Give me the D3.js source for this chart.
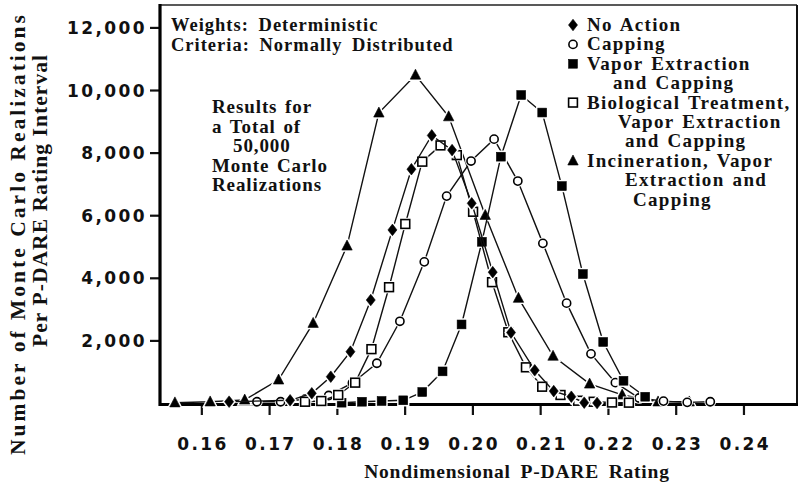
<!DOCTYPE html>
<html><head><meta charset="utf-8">
<script src="https://cdn.jsdelivr.net/npm/d3@7"></script>
<style>
html,body{margin:0;padding:0;background:#fff;}
svg{display:block;}
.serif{font-family:"Liberation Serif","Times New Roman",serif;font-weight:bold;fill:#111;}
.tick text{font-family:"DejaVu Sans",sans-serif;font-weight:bold;font-size:17px;letter-spacing:2.4px;fill:#111;}
</style></head>
<body><svg id="c" width="803" height="486"></svg>
<script>
// ---- data ----
const xTicks = [0.16,0.17,0.18,0.19,0.20,0.21,0.22,0.23,0.24];
const yTicks = [2000,4000,6000,8000,10000,12000];

const noActionX = [0.1641,0.1731,0.1763,0.1791,0.1820,0.1850,0.1882,0.1910,0.1940,0.1970,0.1999,0.2030,0.2057,0.2092,0.2120,0.2146,0.2165,0.2184];
const noActionY = [42,86,310,840,1640,3290,5530,7470,8550,8080,6380,4180,2250,1045,380,200,10,0];

const cappingX = [0.1682,0.1717,0.1753,0.1788,0.1823,0.1859,0.1893,0.1929,0.1962,0.1998,0.2032,0.2067,0.2104,0.2139,0.2175,0.2211,0.2246,0.2282,0.2317,0.2351];
const cappingY = [40,40,120,240,640,1270,2610,4510,6610,7730,8430,7090,5100,3190,1570,650,160,60,20,40];

const vaporX = [0.1807,0.1837,0.1866,0.1898,0.1926,0.1956,0.1984,0.2014,0.2042,0.2072,0.2103,0.2132,0.2163,0.2193,0.2223,0.2255];
const vaporY = [10,40,64,86,350,1010,2510,5150,7870,9840,9280,6930,4120,1950,710,200];

const bioX = [0.1753,0.1777,0.1802,0.1827,0.1851,0.1877,0.1901,0.1926,0.1953,0.1977,0.2001,0.2029,0.2053,0.2079,0.2103,0.2130,0.2156,0.2179,0.2206,0.2231];
const bioY = [40,64,256,650,1720,3700,5720,7710,8230,7920,6110,3860,2260,1140,520,256,73,40,16,10];

const incinX = [0.1561,0.1613,0.1664,0.1714,0.1765,0.1815,0.1862,0.1916,0.1965,0.2019,0.2068,0.2119,0.2173,0.2221,0.2274,0.2320];
const incinY = [10,40,100,740,2550,5020,9270,10480,9150,6000,3350,1500,610,260,40,40];

const legendLines = [
  ["No Action",0],["Capping",0],["Vapor Extraction",0],["and Capping",26],
  ["Biological Treatment,",0],["Vapor Extraction",31],["and Capping",38],
  ["Incineration, Vapor",0],["Extraction and",38],["Capping",46]
];
const noteLines = ["Results for","a Total of","  50,000","Monte Carlo","Realizations"];

// ---- layout ----
const svg = d3.select("#c");
const L=160, R=797, T=5, B=404;
const x = d3.scaleLinear().domain([0.1539,0.2479]).range([L,R]);
const y = d3.scaleLinear().domain([0,12700]).range([403,T+0.5]);

// frame
svg.append("line").attr("x1",L).attr("x2",R).attr("y1",T).attr("y2",T).attr("stroke","#222").attr("stroke-width",1.6);
svg.append("line").attr("x1",R).attr("x2",R).attr("y1",T).attr("y2",B).attr("stroke","#111").attr("stroke-width",2);

// axes
const xAxis = d3.axisBottom(x).tickValues(xTicks).tickFormat(d3.format(".2f")).tickSize(10).tickSizeOuter(0).tickPadding(23);
const gx = svg.append("g").attr("transform",`translate(0,${B+1})`).call(xAxis);
gx.select(".domain").remove();
gx.selectAll(".tick line").attr("stroke","#111").attr("stroke-width",2.2);
gx.selectAll(".tick text").attr("dx","1.2px");

const yAxis = d3.axisLeft(y).tickValues(yTicks).tickFormat(d3.format(",")).tickSize(10).tickSizeOuter(0).tickPadding(3);
const gy = svg.append("g").attr("transform",`translate(${L},0)`).call(yAxis);
gy.select(".domain").remove();
gy.selectAll(".tick line").attr("stroke","#111").attr("stroke-width",2.2);
gy.selectAll(".tick text").attr("dy","0.36em");

svg.append("line").attr("x1",L).attr("x2",L).attr("y1",T-1).attr("y2",B+2).attr("stroke","#000").attr("stroke-width",3.2);
svg.append("line").attr("x1",L-1).attr("x2",R+1).attr("y1",B+0.5).attr("y2",B+0.5).attr("stroke","#000").attr("stroke-width",3.2);

// marker shapes
function drawMarker(g, type, cx, cy, halo){
  const s = g.append("g").attr("transform",`translate(${cx},${cy})`);
  let el;
  if(type==="diamond") el = s.append("path").attr("d","M0,-5.8L4.5,0L0,5.8L-4.5,0Z");
  else if(type==="circle") el = s.append("circle").attr("r",4.1);
  else if(type==="fsquare"||type==="osquare") el = s.append("rect").attr("x",-4.4).attr("y",-4.4).attr("width",8.8).attr("height",8.8);
  else if(type==="triangle") el = s.append("path").attr("d","M0,-5.8L5.2,4.2L-5.2,4.2Z");
  if(halo){ el.attr("fill","#fff").attr("stroke","#fff").attr("stroke-width",3.5); return; }
  if(type==="diamond"||type==="fsquare"||type==="triangle") el.attr("fill","#000").attr("stroke","#000").attr("stroke-width",0.6);
  else el.attr("fill","#fff").attr("stroke","#000").attr("stroke-width",1.6);
}

const series = [
  {xs:incinX, ys:incinY, type:"triangle"},
  {xs:cappingX, ys:cappingY, type:"circle"},
  {xs:vaporX, ys:vaporY, type:"fsquare"},
  {xs:bioX, ys:bioY, type:"osquare"},
  {xs:noActionX, ys:noActionY, type:"diamond"}
];
const line = d3.line().x(d=>x(d[0])).y(d=>y(d[1]));
const plot = svg.append("g");
series.forEach(s=>{
  const pts = s.xs.map((v,i)=>[v,s.ys[i]]);
  const g = plot.append("g");
  g.append("path").attr("d",line(pts)).attr("fill","none").attr("stroke","#111").attr("stroke-width",1.4);
  pts.forEach(p=>drawMarker(g,s.type,x(p[0]),y(p[1]),true));
  pts.forEach(p=>drawMarker(g,s.type,x(p[0]),y(p[1]),false));
});

// legend
const leg = svg.append("g");
const lx = 587, ly0 = 31, lh = 19.4;
legendLines.forEach((l,i)=>{
  leg.append("text").attr("class","serif").attr("x",lx+l[1]).attr("y",ly0+i*lh)
    .attr("font-size",19).style("letter-spacing","1.3px").style("word-spacing","2px").text(l[0]);
});
[["diamond",0],["circle",1],["fsquare",2],["osquare",4],["triangle",7]].forEach(m=>{
  drawMarker(leg,m[0],573,ly0-6+m[1]*lh,false);
});

// annotations
svg.append("text").attr("class","serif").attr("x",171).attr("y",31).attr("font-size",18.5)
  .style("letter-spacing","1px").style("word-spacing","4px").text("Weights:  Deterministic");
svg.append("text").attr("class","serif").attr("x",171).attr("y",51).attr("font-size",18.5)
  .style("letter-spacing","1px").style("word-spacing","4px").text("Criteria:  Normally Distributed");
noteLines.forEach((t,i)=>{
  svg.append("text").attr("class","serif").attr("x", t.startsWith("  ")?233:212).attr("y",113+i*19.6)
    .attr("font-size",19).style("letter-spacing","0.9px").style("word-spacing","2px").text(t.trim());
});

// axis titles
svg.append("text").attr("class","serif").attr("x",517).attr("y",478).attr("text-anchor","middle")
  .attr("font-size",19.5).style("letter-spacing","0.8px").style("word-spacing","4px").text("Nondimensional P-DARE Rating");
svg.append("text").attr("class","serif").attr("transform","translate(25,235) rotate(-90)").attr("text-anchor","middle")
  .attr("font-size",21.5).attr("textLength",440).attr("lengthAdjust","spacing").text("Number of Monte Carlo Realizations");
svg.append("text").attr("class","serif").attr("transform","translate(47,201) rotate(-90)").attr("text-anchor","middle")
  .attr("font-size",21.5).attr("textLength",292).attr("lengthAdjust","spacing").text("Per P-DARE Rating Interval");
</script></body></html>
